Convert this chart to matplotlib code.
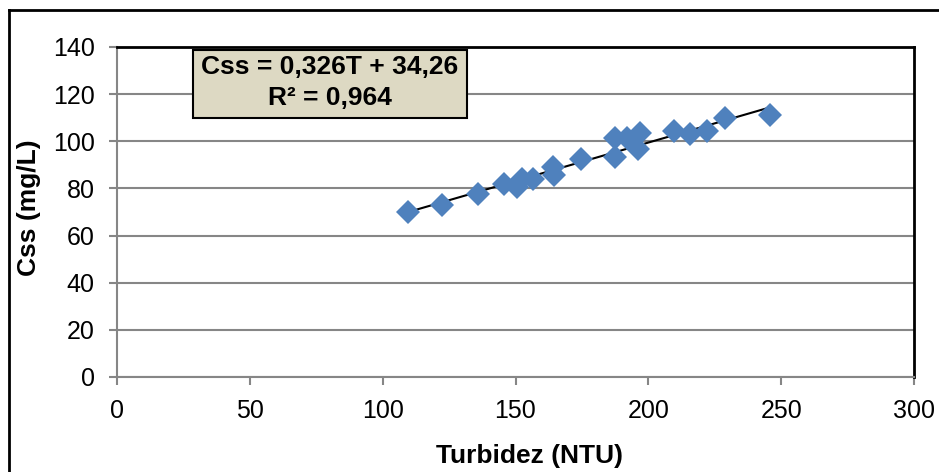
import numpy as np
import matplotlib.pyplot as plt
from matplotlib.patches import Rectangle
from matplotlib.lines import Line2D

plt.rcParams['font.family'] = ['Liberation Sans', 'DejaVu Sans']

# Data
turbidez = [109.4, 122.2, 135.8, 145.7, 150.7, 152.3, 156.7, 164.2, 164.5, 174.7,
            187.4, 187.4, 191.8, 196.8, 196.0, 209.7, 215.6, 221.9, 228.8, 245.8]
css = [70.1, 73.0, 77.6, 82.0, 80.7, 83.9, 83.9, 89.0, 85.7, 92.4,
       101.3, 93.5, 101.3, 103.4, 96.6, 104.5, 103.1, 104.5, 109.8, 111.2]

# Trend line coefficients (from the chart label)
slope = 0.326
intercept = 34.26
r2 = 0.964

x_ticks = [0, 50, 100, 150, 200, 250, 300]
y_ticks = [0, 20, 40, 60, 80, 100, 120, 140]

grey = '#868686'
blue = '#4F81BD'

fig = plt.figure(figsize=(9.39, 4.72), dpi=100)
ax = fig.add_axes([117 / 939, 1 - 377 / 472, 797 / 939, 330 / 472])

ax.set_xlim(0, 300)
ax.set_ylim(0, 140)
ax.set_xticks(x_ticks)
ax.set_yticks(y_ticks)
ax.grid(axis='y', color=grey, linewidth=1.5)
ax.set_axisbelow(True)

for side in ['left', 'bottom']:
    ax.spines[side].set_color(grey)
    ax.spines[side].set_linewidth(1.5)
for side in ['top', 'right']:
    ax.spines[side].set_color('black')
    ax.spines[side].set_linewidth(2)

ax.tick_params(axis='both', direction='out', length=6, width=1.5, color=grey,
               labelsize=18, pad=10)

# trend line over the data range
xs = np.array([min(turbidez), max(turbidez)])
ax.plot(xs, slope * xs + intercept, color='black', linewidth=1.5, zorder=3)

ax.plot(turbidez, css, linestyle='none', marker='D', markersize=12,
        color=blue, markeredgewidth=0, zorder=4)

ax.set_xlabel('Turbidez (NTU)', fontsize=19, fontweight='bold')
ax.set_ylabel('Css (mg/L)', fontsize=19, fontweight='bold')
ax.xaxis.set_label_coords(0.518, -0.239)
ax.xaxis.label.set_va('center')
ax.yaxis.set_label_coords(-0.111, 0.512)
ax.yaxis.label.set_va('center')

# equation box
box = Rectangle((0.0954, 0.785), 0.344, 0.206, transform=ax.transAxes,
                facecolor='#DDD9C3', edgecolor='black', linewidth=1.5,
                zorder=5, clip_on=False)
ax.add_patch(box)
eq = f'Css = {slope:.3f}T + {intercept:.2f}'.replace('.', ',')
ax.text(0.0954 + 0.172, 0.94, eq, transform=ax.transAxes, ha='center',
        va='center', fontsize=19, fontweight='bold', zorder=6)
ax.text(0.0954 + 0.172, 0.845, f'R² = {r2:.3f}'.replace('.', ','),
        transform=ax.transAxes, ha='center', va='center', fontsize=19,
        fontweight='bold', zorder=6)

# outer chart frame (top and left edges visible)
fx = 9 / 939
fy = 1 - 9.5 / 472
fig.add_artist(Line2D([fx, fx], [0, fy], color='black', linewidth=2))
fig.add_artist(Line2D([fx, 1], [fy, fy], color='black', linewidth=2))

fig.savefig('out.png', dpi=100)
